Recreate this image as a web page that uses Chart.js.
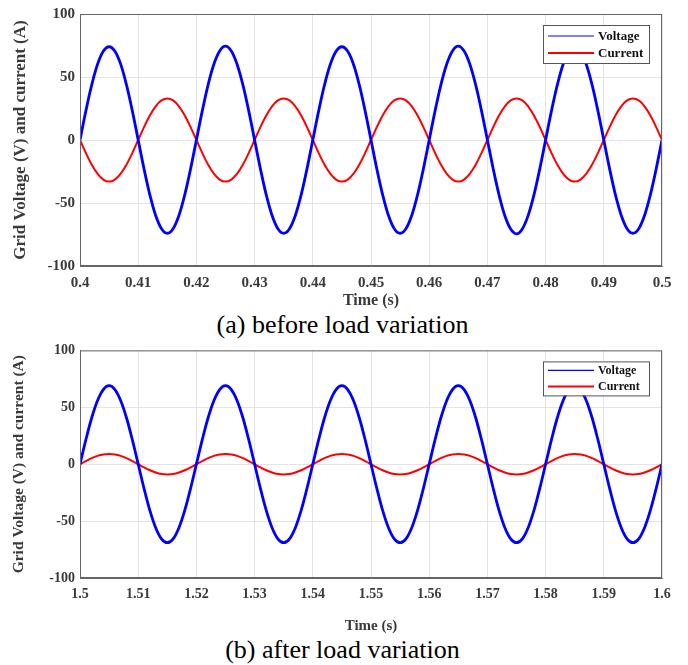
<!DOCTYPE html>
<html>
<head>
<meta charset="utf-8">
<script src="https://cdn.jsdelivr.net/npm/chart.js@4.4.1/dist/chart.umd.min.js"></script>
<style>
  body { margin: 0; background: #fff; }
  #page { position: relative; width: 688px; height: 665px; }
  .box { position: absolute; left: 0; width: 688px; }
  .cap { position: absolute; left: 0; width: 685px; text-align: center;
         font-family: "Liberation Serif", serif; font-size: 26px; color: #000;
         height: 30px; line-height: 30px; }
</style>
</head>
<body>
<div id="page">
  <div class="box" style="top:0;height:310px"><canvas id="chartA"></canvas></div>
  <div class="cap" style="top:310px">(a) before load variation</div>
  <div class="box" style="top:337px;height:298px"><canvas id="chartB"></canvas></div>
  <div class="cap" style="top:635px">(b) after load variation</div>
</div>
<script>
// (a) before load variation: 0.400 .. 0.500 s, one sample per ms
const voltageA = [
  0, 22.9, 43.5, 59.9, 70.4, 74, 70.4, 60, 43.5, 22.9, 0, -22.9, -43.5, -59.9, -70.4, -74, -70.4, -59.9, -43.5, -22.9,
  0, 22.9, 43.6, 60.1, 70.7, 74.5, 70.6, 59.9, 43.5, 22.9, 0, -22.9, -43.5, -59.9, -70.4, -74, -70.4, -59.9, -43.5, -22.9,
  0, 22.9, 43.5, 59.9, 70.4, 74, 70.4, 59.9, 43.5, 22.9, 0, -22.9, -43.5, -59.9, -70.4, -74, -70.4, -59.9, -43.5, -22.9,
  0, 22.9, 43.6, 60.1, 70.7, 74.5, 70.6, 59.9, 43.5, 22.9, 0, -22.9, -43.6, -60.1, -70.7, -74.5, -70.6, -59.9, -43.5, -22.9,
  0, 22.9, 43.5, 59.9, 70.4, 74, 70.4, 59.9, 43.5, 22.9, 0, -22.9, -43.5, -59.9, -70.4, -74, -70.4, -59.9, -43.5, -22.9,
  0
];
const currentA = [
  0, -10.2, -19.4, -26.7, -31.4, -33, -31.4, -26.7, -19.4, -10.2, 0, 10.2, 19.4, 26.7, 31.4, 33, 31.4, 26.7, 19.4, 10.2,
  0, -10.2, -19.4, -26.7, -31.4, -33, -31.4, -26.7, -19.4, -10.2, 0, 10.2, 19.4, 26.7, 31.4, 33, 31.4, 26.7, 19.4, 10.2,
  0, -10.2, -19.4, -26.7, -31.4, -33, -31.4, -26.7, -19.4, -10.2, 0, 10.2, 19.4, 26.7, 31.4, 33, 31.4, 26.7, 19.4, 10.2,
  0, -10.2, -19.4, -26.7, -31.4, -33, -31.4, -26.7, -19.4, -10.2, 0, 10.2, 19.4, 26.7, 31.4, 33, 31.4, 26.7, 19.4, 10.2,
  0, -10.2, -19.4, -26.7, -31.4, -33, -31.4, -26.7, -19.4, -10.2, 0, 10.2, 19.4, 26.7, 31.4, 33, 31.4, 26.7, 19.4, 10.2,
  0
];
// (b) after load variation: 1.500 .. 1.600 s
const voltageB = [
  0, 21.3, 40.6, 55.8, 65.6, 69, 65.6, 55.8, 40.6, 21.3, 0, -21.3, -40.6, -55.8, -65.6, -69, -65.6, -55.8, -40.6, -21.3,
  0, 21.3, 40.6, 55.8, 65.6, 69, 65.6, 55.8, 40.6, 21.3, 0, -21.3, -40.6, -55.8, -65.6, -69, -65.6, -55.8, -40.6, -21.3,
  0, 21.3, 40.6, 55.8, 65.6, 69, 65.6, 55.8, 40.6, 21.3, 0, -21.3, -40.6, -55.8, -65.6, -69, -65.6, -55.8, -40.6, -21.3,
  0, 21.3, 40.6, 55.8, 65.6, 69, 65.6, 55.8, 40.6, 21.3, 0, -21.3, -40.6, -55.8, -65.6, -69, -65.6, -55.8, -40.6, -21.3,
  0, 21.3, 40.6, 55.8, 65.6, 69, 65.6, 55.8, 40.6, 21.3, 0, -21.3, -40.6, -55.8, -65.6, -69, -65.6, -55.8, -40.6, -21.3,
  0
];
const currentB = [
  0, 2.8, 5.3, 7.3, 8.6, 9, 8.6, 7.3, 5.3, 2.8, 0, -2.8, -5.3, -7.3, -8.6, -9, -8.6, -7.3, -5.3, -2.8,
  0, 2.8, 5.3, 7.3, 8.6, 9, 8.6, 7.3, 5.3, 2.8, 0, -2.8, -5.3, -7.3, -8.6, -9, -8.6, -7.3, -5.3, -2.8,
  0, 2.8, 5.3, 7.3, 8.6, 9, 8.6, 7.3, 5.3, 2.8, 0, -2.8, -5.3, -7.3, -8.6, -9, -8.6, -7.3, -5.3, -2.8,
  0, 2.8, 5.3, 7.3, 8.6, 9, 8.6, 7.3, 5.3, 2.8, 0, -2.8, -5.3, -7.3, -8.6, -9, -8.6, -7.3, -5.3, -2.8,
  0, 2.8, 5.3, 7.3, 8.6, 9, 8.6, 7.3, 5.3, 2.8, 0, -2.8, -5.3, -7.3, -8.6, -9, -8.6, -7.3, -5.3, -2.8,
  0
];
const seriesNames = ['Voltage', 'Current'];
const yTicks = [-100, -50, 0, 50, 100];
const startA = 0.4, startB = 1.5, sampleStep = 0.001;

function points(start, values) {
  return values.map((v, i) => ({ x: +(start + i * sampleStep).toFixed(3), y: v }));
}

// MATLAB-like frame plus the boxed legend in the upper right corner
const boxPlugin = {
  id: 'matBox',
  afterDatasetsDraw(chart, args, opts) {
    const { ctx, chartArea: a } = chart;
    ctx.save();
    ctx.strokeStyle = '#666';
    ctx.lineWidth = 1;
    ctx.strokeRect(a.left + 0.5, a.top + 0.5, a.width - 1, a.height - 1);

    const lx = a.right - 119, ly = a.top + 11, w = 106, h = opts.h;
    ctx.fillStyle = '#fff';
    ctx.fillRect(lx, ly, w, h);
    ctx.strokeStyle = '#555';
    ctx.strokeRect(lx + 0.5, ly + 0.5, w, h);
    ctx.font = 'bold ' + opts.size + 'px "Liberation Serif"';
    ctx.textBaseline = 'middle';
    chart.data.datasets.forEach((ds, i) => {
      const y = ly + opts.row0 + i * opts.rowGap;
      ctx.strokeStyle = ds.borderColor;
      ctx.lineWidth = i === 0 ? 1.2 : 2;
      ctx.beginPath();
      ctx.moveTo(lx + 5, y);
      ctx.lineTo(lx + 51, y);
      ctx.stroke();
      ctx.fillStyle = '#111';
      ctx.fillText(ds.label, lx + 55, y + 1);
    });
    ctx.restore();
  }
};

function makeChart(id, start, volt, curr, cfg) {
  const ctx = document.getElementById(id).getContext('2d');
  return new Chart(ctx, {
    type: 'line',
    data: {
      datasets: [{
        label: seriesNames[0],
        data: points(start, volt),
        borderColor: '#0000ff',
        borderWidth: 2.8,
        pointRadius: 0,
        tension: 0.35
      }, {
        label: seriesNames[1],
        data: points(start, curr),
        borderColor: '#ff0000',
        borderWidth: 2,
        pointRadius: 0,
        tension: 0.35
      }]
    },
    options: {
      responsive: true,
      maintainAspectRatio: false,
      animation: false,
      layout: { padding: { left: 0, right: 26, top: cfg.top, bottom: 0 } },
      scales: {
        x: {
          type: 'linear',
          min: start,
          max: start + 0.1,
          afterFit: s => { s.height = cfg.xh; },
          ticks: {
            stepSize: 0.01,
            color: '#3a3a3a',
            padding: cfg.tickPad,
            maxRotation: 0,
            font: { family: 'Liberation Serif', weight: 'bold', size: cfg.tick },
            callback: v => String(+v.toFixed(2))
          },
          grid: { color: '#e4e4e4', tickLength: 0 },
          border: { color: '#666' },
          title: {
            display: true,
            text: 'Time (s)',
            color: '#3a3a3a',
            font: { family: 'Liberation Serif', weight: 'bold', size: cfg.title },
            padding: { top: cfg.titlePad, bottom: 0 }
          }
        },
        y: {
          min: yTicks[0],
          max: yTicks[yTicks.length - 1],
          afterFit: s => { s.width = 80; },
          afterBuildTicks: s => { s.ticks = yTicks.map(v => ({ value: v })); },
          ticks: {
            color: '#3a3a3a',
            padding: 5,
            font: { family: 'Liberation Serif', weight: 'bold', size: cfg.tick }
          },
          grid: { color: '#e4e4e4', tickLength: 0 },
          border: { color: '#666' },
          title: {
            display: true,
            text: 'Grid Voltage (V) and current (A)',
            color: '#3a3a3a',
            font: { family: 'Liberation Serif', weight: 'bold', size: cfg.ytitle },
            padding: { top: 10, bottom: 0 }
          }
        }
      },
      plugins: {
        legend: { display: false },
        tooltip: { enabled: false },
        matBox: cfg.legend
      }
    },
    plugins: [boxPlugin]
  });
}

makeChart('chartA', startA, voltageA, currentA, {
  top: 13, xh: 44, tick: 15, title: 16, ytitle: 17, tickPad: 8, titlePad: 3,
  legend: { h: 38, size: 13, row0: 11, rowGap: 17 }
});
makeChart('chartB', startB, voltageB, currentB, {
  top: 9, xh: 57, tick: 14, title: 15, ytitle: 15.5, tickPad: 8, titlePad: 13,
  legend: { h: 34, size: 12, row0: 9, rowGap: 16 }
});
</script>
</body>
</html>
